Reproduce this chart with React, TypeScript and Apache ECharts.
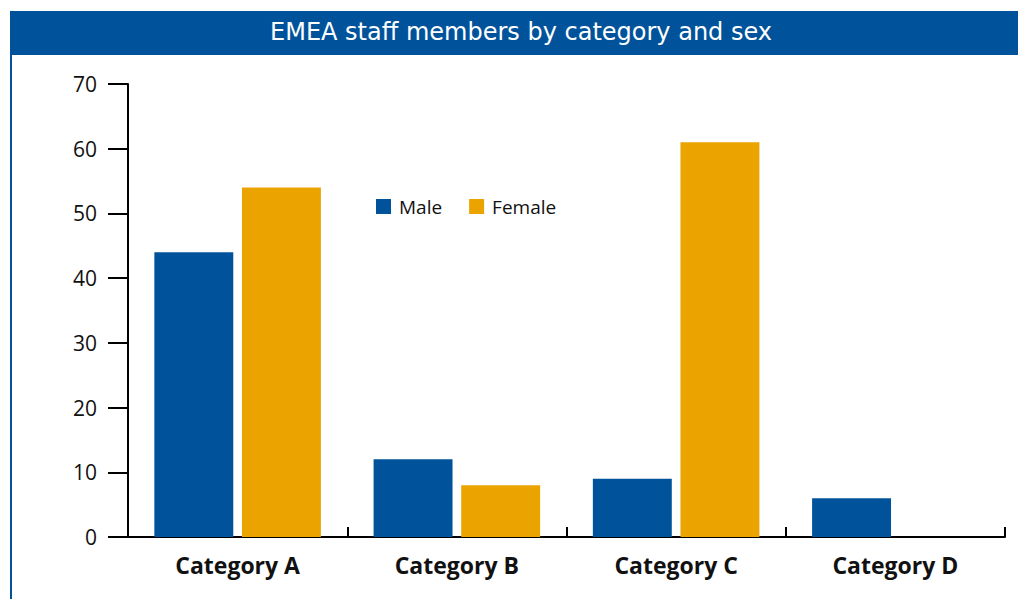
import React, { useEffect, useRef } from "react";
import * as echarts from "echarts";

const categories = ["Category A", "Category B", "Category C", "Category D"];
const maleValues = [44, 12, 9, 6];
const femaleValues = [54, 8, 61, 0];
const titleText = "EMEA staff members by category and sex";

const BLUE = "#00539B";
const ORANGE = "#EBA300";
const FONT = "'Open Sans', 'Noto Sans', sans-serif";
const TITLE_FONT = "'DejaVu Sans', sans-serif";

export default function App() {
  const ref = useRef<HTMLDivElement>(null);
  useEffect(() => {
    document.body.style.margin = "0";
    const chart = echarts.init(ref.current!, null, { renderer: "svg" });
    chart.setOption({
      animation: false,
      backgroundColor: "#ffffff",
      textStyle: { fontFamily: FONT },
      graphic: [
        { type: "rect", shape: { x: 10, y: 11, width: 1008, height: 44 }, style: { fill: BLUE } },
        { type: "rect", shape: { x: 10, y: 55, width: 2, height: 544 }, style: { fill: BLUE } },
        {
          type: "text",
          x: 521,
          y: 32,
          style: {
            text: titleText,
            fill: "#ffffff",
            fontSize: 24,
            fontFamily: TITLE_FONT,
            align: "center",
            verticalAlign: "middle",
          },
        },
      ],
      legend: {
        left: 376,
        top: 192,
        padding: [5, 5, 5, 0],
        itemWidth: 15,
        itemHeight: 15,
        itemGap: 27,
        icon: "rect",
        textStyle: { fontSize: 19, color: "#111", fontFamily: FONT, padding: [0, 0, 0, 3] },
        data: ["Male", "Female"],
      },
      grid: { left: 128, right: 13, top: 84, bottom: 62, containLabel: false },
      xAxis: {
        type: "category",
        data: categories,
        axisLine: { show: true, lineStyle: { color: "#000", width: 2 } },
        axisTick: { show: true, inside: true, length: 10, lineStyle: { color: "#000", width: 2 } },
        axisLabel: { fontSize: 23, fontWeight: "bold", color: "#111", margin: 16, fontFamily: FONT },
      },
      yAxis: {
        type: "value",
        min: 0,
        max: 70,
        interval: 10,
        splitLine: { show: false },
        axisLine: { show: true, lineStyle: { color: "#000", width: 2 } },
        axisTick: { show: true, inside: false, length: 20, lineStyle: { color: "#000", width: 2 } },
        axisLabel: { fontSize: 21, color: "#111", margin: 31, fontFamily: FONT },
      },
      series: [
        {
          name: "Male",
          type: "bar",
          data: maleValues,
          barWidth: "36%",
          barGap: "11%",
          itemStyle: { color: BLUE },
        },
        {
          name: "Female",
          type: "bar",
          data: femaleValues,
          barWidth: "36%",
          barGap: "11%",
          itemStyle: { color: ORANGE },
        },
      ],
    });
    return () => chart.dispose();
  }, []);
  return (
    <div
      ref={ref}
      style={{ position: "absolute", left: 0, top: 0, width: 1018, height: 599 }}
    />
  );
}
